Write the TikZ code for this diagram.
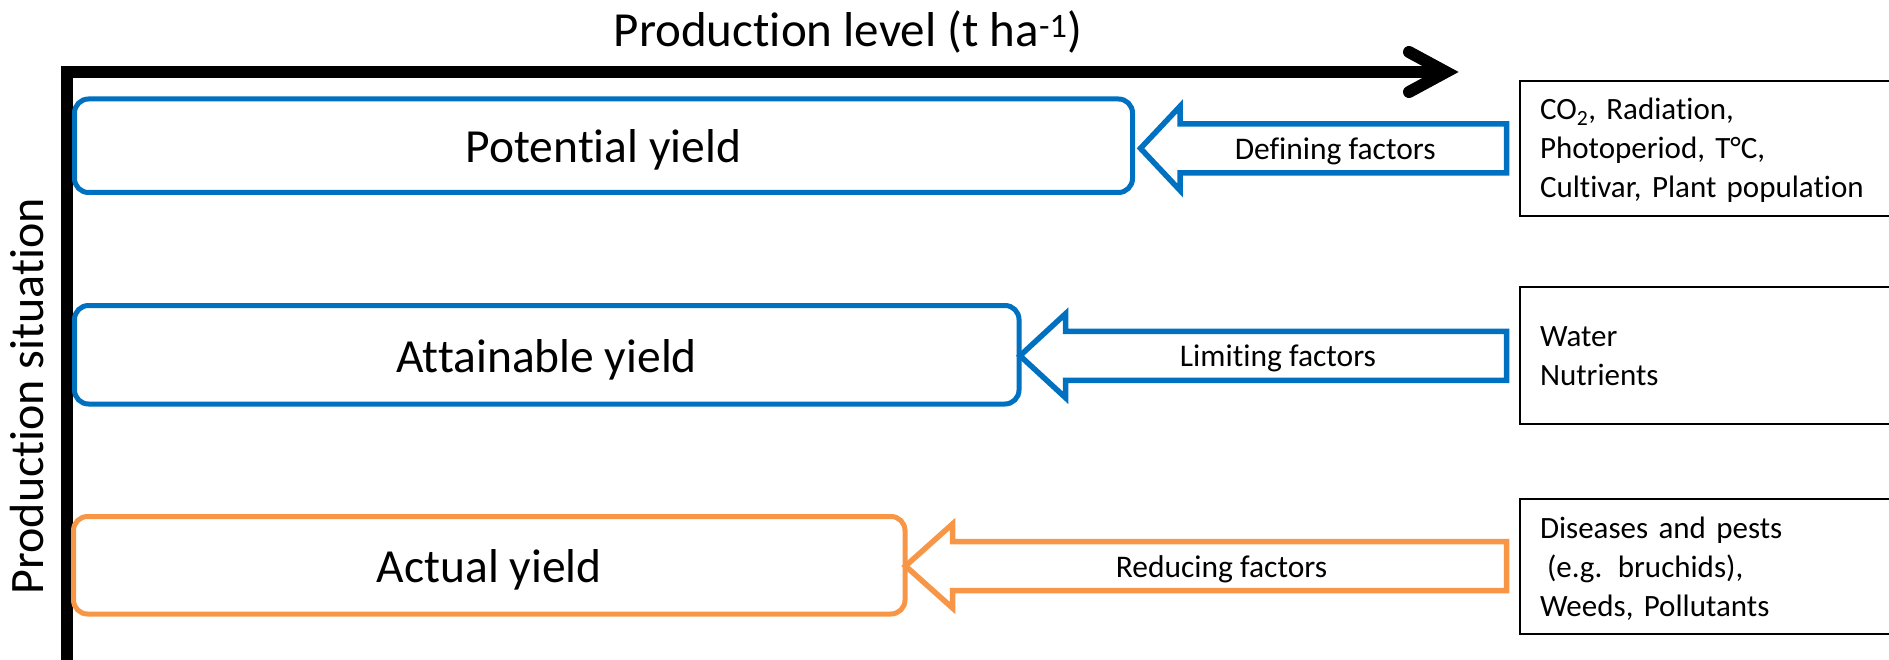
\documentclass[tikz,border=0pt]{standalone}
\usepackage{fontspec}
\setmainfont{Carlito}[Ligatures=CommonOff]
\usetikzlibrary{calc}
\definecolor{potblue}{HTML}{0070C0}
\definecolor{actorange}{HTML}{F79646}
\tikzset{
  axisline/.style={line width=12pt, line join=miter},
  axistip/.style={line width=12pt, line join=miter, line cap=round},
  axislabel/.style={inner sep=0pt, font=\fontsize{#1}{60}\selectfont},
  yieldbox/.style={draw=#1, line width=5pt, rounded corners=14pt, inner sep=0pt,
    outer sep=0pt, text height=34.5pt, text depth=0pt,
    font=\fontsize{47.5}{56}\selectfont},
  factorbox/.style={draw=black, line width=2pt, anchor=west, inner xsep=20pt,
    inner ysep=0pt, outer sep=0pt, text width=420pt, text height=0pt,
    font=\fontsize{31}{39}\selectfont},
  blockarrow/.style={draw=#1, line width=5.5pt, line join=miter},
  arrowlabel/.style={inner sep=0pt, text height=22pt, text depth=0pt,
    font=\fontsize{31.5}{38}\selectfont},
}
% hollow block arrow pointing left: #1 colour, #2 tip, #3 tail, #4 head length
\newcommand\factorarrow[4]{%
  \draw[blockarrow=#1] (#2) -- ($(#2)+(#4,-42)$) -- ($(#2)+(#4,-24.5)$)
    -- ($(#3)+(0,-24.5)$) -- ($(#3)+(0,24.5)$) -- ($(#2)+(#4,24.5)$)
    -- ($(#2)+(#4,42)$) -- cycle;}
% left-aligned list of factors, one per row
\newcommand\factorlist[1]{\begin{tabular}[t]{@{}l@{}}#1\end{tabular}}
\begin{document}
\begin{tikzpicture}[x=1pt, y=-1pt]
  \useasboundingbox (0,0) rectangle (1889,660);
  \clip (0,0) rectangle (1889,660);

  % axes
  \coordinate (origin) at (67,72);
  \coordinate (xend) at (1446,72);
  \draw[axisline] (67,680) -- (origin) -- (xend);
  \draw[axistip] ($(xend)+(-37,-20)$) -- (xend) -- ($(xend)+(-37,20)$);
  \node[axislabel=49, anchor=base] (xlab) at (848,46.5)
    {Production level (t ha\textsuperscript{-1})};
  \node[axislabel=48, rotate=90, anchor=base] (ylab) at (43,396)
    {Production situation};

  % yield levels
  \node[yieldbox=potblue, minimum width=1058pt, minimum height=93.5pt]
    (pot) at (603.5,145.75) {Potential yield};
  \node[yieldbox=potblue, minimum width=944.5pt, minimum height=98.5pt]
    (att) at (546.75,354.75) {Attainable yield};
  \node[yieldbox=actorange, minimum width=831.5pt, minimum height=97.5pt]
    (act) at (489.25,565.25) {Actual yield};

  % factor lists
  \node[factorbox, minimum height=135pt, text depth=57pt] (fdef) at (1520,148.5)
    {\factorlist{CO\textsubscript{2}, Radiation,\\Photoperiod, T°C,\\Cultivar, Plant population}};
  \node[factorbox, minimum height=137pt, text depth=18pt] (flim) at (1520,355.5)
    {\factorlist{Water\\Nutrients}};
  \node[factorbox, minimum height=135pt, text depth=57pt] (fred) at (1520,566.5)
    {\factorlist{Diseases and pests\\\hspace*{7pt}(e.g. bruchids),\\Weeds, Pollutants}};

  % arrows from factors to yield levels
  \coordinate (dtip) at ($(pot.east)+(8,2.6)$);
  \coordinate (dtail) at ($(dtip -| fdef.west)+(-13.5,0)$);
  \factorarrow{potblue}{dtip}{dtail}{39.5}
  \node[arrowlabel] (dlab) at ($(dtip)!0.5!(dtail)+(11.75,0)$) {Defining factors};

  \coordinate (ltip) at ($(att.east)+(1,1)$);
  \coordinate (ltail) at ($(ltip -| flim.west)+(-13.5,0)$);
  \factorarrow{potblue}{ltip}{ltail}{45.5}
  \node[arrowlabel] (llab) at ($(ltip)!0.5!(ltail)+(14.75,0)$) {Limiting factors};

  \coordinate (rtip) at ($(act.east)+(0.5,0.75)$);
  \coordinate (rtail) at ($(rtip -| fred.west)+(-13.5,0)$);
  \factorarrow{actorange}{rtip}{rtail}{47}
  \node[arrowlabel] (rlab) at ($(rtip)!0.5!(rtail)+(15.5,0)$) {Reducing factors};
\end{tikzpicture}
\end{document}
